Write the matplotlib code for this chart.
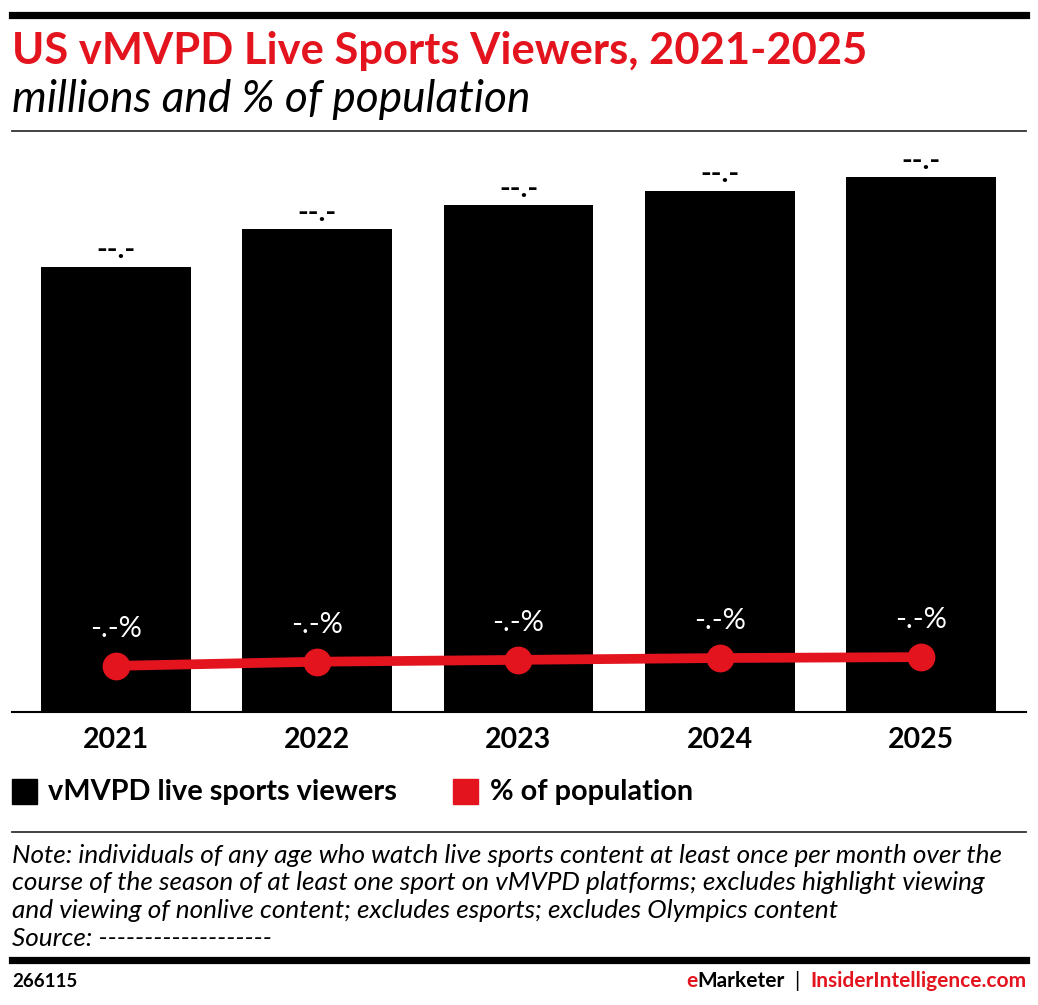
import matplotlib
matplotlib.use("Agg")
from matplotlib import pyplot as plt
from matplotlib.lines import Line2D

years = ["2021", "2022", "2023", "2024", "2025"]
viewers = [33.4, 36.2, 38.0, 39.1, 40.1]       # millions (hidden in source as --.-)
pct_pop = [10.0, 10.9, 11.3, 11.7, 11.9]       # % of population (hidden as -.-%)
bar_labels = ["--.-"] * 5
pct_labels = ["-.-%"] * 5

RED = "#e3141e"
W, H = 1038, 1005
plt.rcParams['font.family'] = ['Lato', 'DejaVu Sans']

fig = plt.figure(figsize=(W / 100, H / 100), dpi=100)


def fx(px):
    return px / W


def fy(py):
    return 1 - py / H


# header rules and titles
fig.add_artist(Line2D([fx(12), fx(1026)], [fy(15.5), fy(15.5)], color="black", lw=5.2))
fig.text(fx(12), fy(64), "US vMVPD Live Sports Viewers, 2021-2025", color=RED,
         fontsize=31.3, fontweight="bold", va="baseline")
fig.text(fx(12), fy(112), "millions and % of population", color="black",
         fontsize=31.9, style="italic", va="baseline")
fig.add_artist(Line2D([fx(12), fx(1026)], [fy(131), fy(131)], color="#333333", lw=1.3))

# chart
ax = fig.add_axes([fx(12), fy(712), fx(1026) - fx(12), fy(140) - fy(712)])
x = list(range(len(years)))
bars = ax.bar(x, viewers, width=0.745, color="black", zorder=1)
ax.set_xlim(-0.517, 4.522)
ax.set_ylim(0, 42.9)
for b, lab in zip(bars, bar_labels):
    ax.annotate(lab, (b.get_x() + b.get_width() / 2, b.get_height()),
                xytext=(0, 6), textcoords="offset points", ha="center", va="baseline",
                fontsize=21, fontweight="bold", color="black")
for s in ["top", "right", "left"]:
    ax.spines[s].set_visible(False)
ax.spines["bottom"].set_linewidth(1.5)
ax.set_yticks([])
ax.set_xticks(x)
ax.set_xticklabels(years, fontsize=20.5, fontweight="bold")
ax.tick_params(axis="x", length=0, pad=11)

ax2 = ax.twinx()
ax2.set_ylim(0, 124)
ax2.plot(x, pct_pop, color=RED, lw=7, marker="o", markersize=19, solid_capstyle="round")
for xi, v, lab in zip(x, pct_pop, pct_labels):
    ax2.annotate(lab, (xi, v), xytext=(0, 21), textcoords="offset points",
                 ha="center", va="baseline", fontsize=21, color="white")
ax2.axis("off")

# legend
fig.add_artist(plt.Rectangle((fx(12), fy(804)), fx(25), 25 / H, color="black"))
fig.text(fx(48), fy(792), "vMVPD live sports viewers", fontsize=20.8, fontweight="bold",
         va="center")
fig.add_artist(plt.Rectangle((fx(453), fy(804)), fx(25), 25 / H, color=RED))
fig.text(fx(490), fy(792), "% of population", fontsize=20.8, fontweight="bold", va="center")

fig.add_artist(Line2D([fx(12), fx(1026)], [fy(832), fy(832)], color="#333333", lw=1.3))

note_lines = [
    "Note: individuals of any age who watch live sports content at least once per month over the",
    "course of the season of at least one sport on vMVPD platforms; excludes highlight viewing",
    "and viewing of nonlive content; excludes esports; excludes Olympics content",
    "Source: -------------------",
]
for i, line in enumerate(note_lines):
    fig.text(fx(12), fy(863 + 27.5 * i), line, fontsize=18.8, style="italic", va="baseline")

fig.add_artist(Line2D([fx(12), fx(1026)], [fy(960), fy(960)], color="black", lw=5.2))
fig.text(fx(12), fy(981), "266115", fontsize=13.5, fontweight="bold", va="center")

# footer brand, right aligned pieces
t1 = fig.text(fx(1026), fy(981), "InsiderIntelligence.com", fontsize=15, fontweight="bold",
              color=RED, va="center", ha="right")
fig.canvas.draw()
r = fig.canvas.get_renderer()
bb = t1.get_window_extent(r)
t2 = fig.text(bb.x0 / W - fx(10), fy(981), "|", fontsize=15, color="black",
              va="center", ha="right")
bb = t2.get_window_extent(r)
t3 = fig.text(bb.x0 / W - fx(10), fy(981), "Marketer", fontsize=15, fontweight="bold",
              color="black", va="center", ha="right")
bb = t3.get_window_extent(r)
fig.text(bb.x0 / W, fy(981), "e", fontsize=15, fontweight="bold", color=RED,
         va="center", ha="right")

fig.savefig("out.png", dpi=100)
